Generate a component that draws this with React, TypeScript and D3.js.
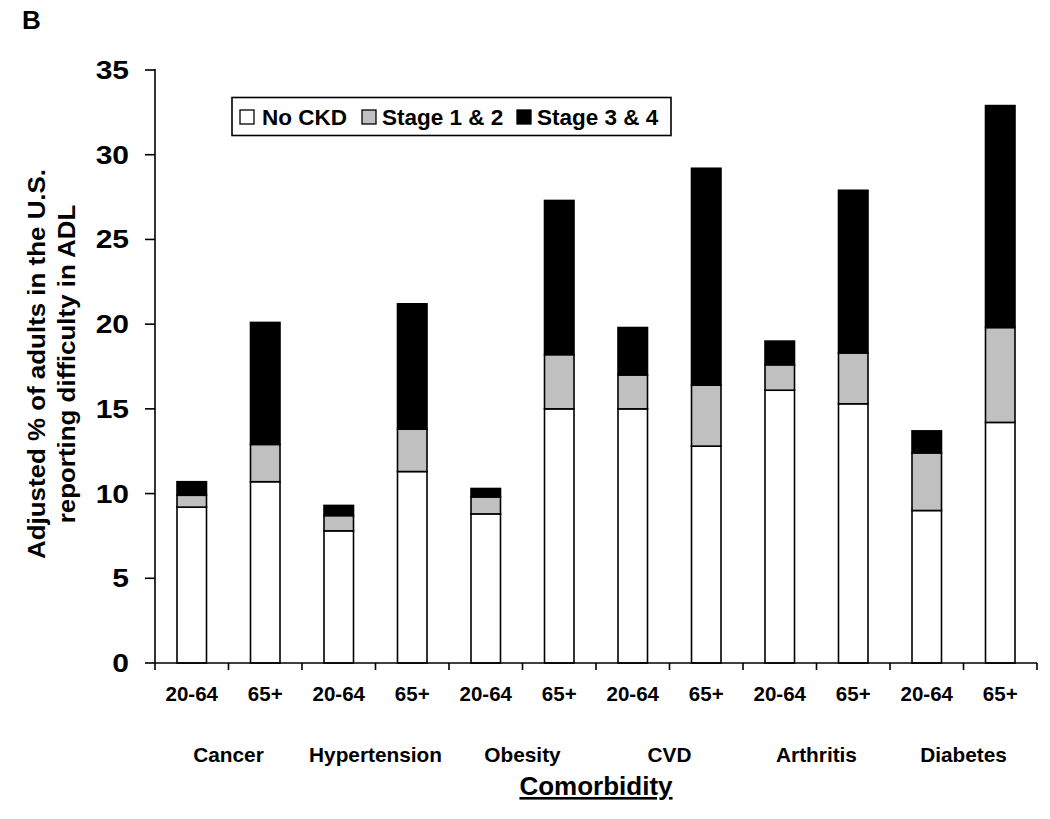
import React from "react";
import * as d3 from "d3";

const comorbidities = ["Cancer", "Hypertension", "Obesity", "CVD", "Arthritis", "Diabetes"];
const ageGroups = ["20-64", "65+"];
const seriesNames = ["No CKD", "Stage 1 & 2", "Stage 3 & 4"];
// order: Cancer 20-64, Cancer 65+, Hypertension 20-64, ...
const noCKD = [9.2, 10.7, 7.8, 11.3, 8.8, 15.0, 15.0, 12.8, 16.1, 15.3, 9.0, 14.2];
const stage12 = [0.7, 2.2, 0.9, 2.5, 1.0, 3.2, 2.0, 3.6, 1.5, 3.0, 3.4, 5.6];
const stage34 = [0.8, 7.2, 0.6, 7.4, 0.5, 9.1, 2.8, 12.8, 1.4, 9.6, 1.3, 13.1];
const yTicks = [0, 5, 10, 15, 20, 25, 30, 35];

const FONT = "Arial, 'Liberation Sans', Helvetica, sans-serif";
const fills = ["#ffffff", "#c0c0c0", "#000000"];

export default function App() {
  const left = 155, right = 1037, top = 70, bottom = 663;
  const bars = comorbidities.flatMap((c) => ageGroups.map((a) => ({ c, a, key: `${c}|${a}` })));
  const rows = bars.map((b, i) => ({ key: b.key, noCKD: noCKD[i], stage12: stage12[i], stage34: stage34[i] }));
  const stack = d3.stack<any>().keys(["noCKD", "stage12", "stage34"])(rows);

  const x = d3.scaleBand<string>().domain(bars.map((b) => b.key)).range([left, right]).padding(0);
  const xGroup = d3.scaleBand<string>().domain(comorbidities).range([left, right]).padding(0);
  const y = d3.scaleLinear().domain([0, 35]).range([bottom, top]);
  const barW = 29.5;

  const legendItems = [
    { x: 240, tx: 262 },
    { x: 362, tx: 382 },
    { x: 517, tx: 537 },
  ];

  return (
    <svg width={1050} height={819} style={{ position: "absolute", left: 0, top: 0, background: "#fff" }} fontFamily={FONT}>
      <text x={22} y={29} fontSize={26} fontWeight="bold">B</text>

      {/* bars */}
      {stack.map((layer, li) =>
        layer.map((d, i) => (
          <rect
            key={`${li}-${i}`}
            x={x(bars[i].key)! + x.bandwidth() / 2 - barW / 2}
            y={y(d[1])}
            width={barW}
            height={y(d[0]) - y(d[1])}
            fill={fills[li]}
            stroke="#000"
            strokeWidth={1.6}
          />
        ))
      )}

      {/* y axis */}
      <line x1={left} x2={left} y1={top - 1} y2={bottom} stroke="#000" strokeWidth={1.6} />
      {yTicks.map((t) => (
        <g key={t}>
          <line x1={left - 10} x2={left} y1={y(t)} y2={y(t)} stroke="#000" strokeWidth={1.6} />
          <text transform={`translate(129, ${y(t) + 9}) scale(1.2, 1)`} fontSize={25} fontWeight="bold" textAnchor="end">{t}</text>
        </g>
      ))}

      {/* x axis */}
      <line x1={left} x2={right} y1={bottom} y2={bottom} stroke="#000" strokeWidth={1.6} />
      {x.domain().map((k) => (
        <line key={k} x1={x(k)!} x2={x(k)!} y1={bottom} y2={bottom + 7} stroke="#000" strokeWidth={1.6} />
      ))}
      <line x1={right} x2={right} y1={bottom} y2={bottom + 7} stroke="#000" strokeWidth={1.6} />
      {bars.map((b) => (
        <text key={b.key} x={x(b.key)! + x.bandwidth() / 2} y={701} fontSize={20.5} fontWeight="bold" textAnchor="middle">{b.a}</text>
      ))}
      {comorbidities.map((c) => (
        <text key={c} x={xGroup(c)! + xGroup.bandwidth() / 2} y={762} fontSize={20.8} fontWeight="bold" textAnchor="middle">{c}</text>
      ))}
      <text x={(left + right) / 2} y={795} fontSize={26} fontWeight="bold" textAnchor="middle" textDecoration="underline">Comorbidity</text>

      {/* y title */}
      <g transform={`translate(45, 364) rotate(-90) scale(1.08, 1)`}>
        <text fontSize={24} fontWeight="bold" textAnchor="middle">Adjusted % of adults in the U.S.</text>
      </g>
      <g transform={`translate(75, 364) rotate(-90) scale(1.08, 1)`}>
        <text fontSize={24} fontWeight="bold" textAnchor="middle">reporting difficulty in ADL</text>
      </g>

      {/* legend */}
      <rect x={232} y={97.5} width={439} height={38} fill="#fff" stroke="#000" strokeWidth={1.6} />
      {seriesNames.map((s, i) => (
        <g key={s}>
          <rect x={legendItems[i].x} y={110} width={14} height={14} fill={fills[i]} stroke="#000" strokeWidth={1.3} />
          <text x={legendItems[i].tx} y={124.5} fontSize={22.5} fontWeight="bold">{s}</text>
        </g>
      ))}
    </svg>
  );
}
